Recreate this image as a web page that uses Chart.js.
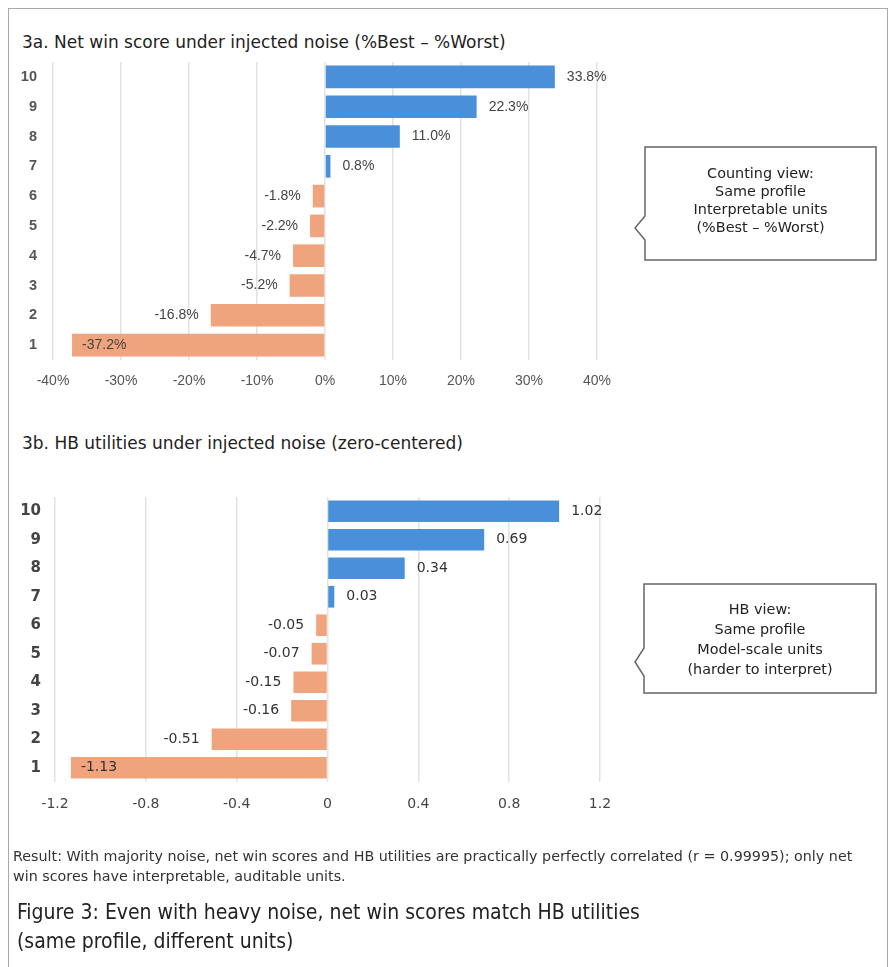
<!DOCTYPE html>
<html><head><meta charset="utf-8">
<script src="https://cdn.jsdelivr.net/npm/chart.js@4.4.1/dist/chart.umd.min.js"></script>
<style>
html,body{margin:0;padding:0;background:#fff;}
body{width:894px;height:967px;position:relative;overflow:hidden;font-family:"DejaVu Sans",sans-serif;}
#frame{position:absolute;left:8px;top:8px;width:880px;height:1100px;border:1.5px solid #a8a8a8;box-sizing:border-box}
.title{position:absolute;left:22px;font-size:17px;color:#222;white-space:nowrap;line-height:20px}
canvas{position:absolute;left:0}
#shapes{position:absolute;left:0;top:0}
.ctext{position:absolute;text-align:center;font-size:14.4px;color:#222;white-space:nowrap}
.result{position:absolute;left:13px;top:846px;font-size:14.3px;line-height:20px;color:#333;white-space:nowrap}
.caption{position:absolute;left:17px;top:898px;font-family:"DejaVu Sans Condensed","DejaVu Sans",sans-serif;font-size:21px;line-height:29px;color:#222;white-space:nowrap}
</style></head>
<body>
<div id="frame"></div>
<div class="title" style="top:32px">3a. Net win score under injected noise (%Best – %Worst)</div>
<canvas id="c1" width="640" height="350" style="top:50px"></canvas>
<div class="title" style="top:433px">3b. HB utilities under injected noise (zero-centered)</div>
<canvas id="c2" width="640" height="345" style="top:480px"></canvas>
<svg id="shapes" width="894" height="967">
  <path d="M645,147 H876 V260 H645 V240 L635,228 L645,216 Z" fill="#fff" stroke="#666" stroke-width="1.5"/>
  <path d="M644,584 H876 V693 H644 V676 L635,662 L644,648 Z" fill="#fff" stroke="#666" stroke-width="1.5"/>
</svg>
<div class="ctext" style="left:645px;width:231px;top:164px;line-height:18px">Counting view:<br>Same profile<br>Interpretable units<br>(%Best – %Worst)</div>
<div class="ctext" style="left:644px;width:232px;top:599px;line-height:20px">HB view:<br>Same profile<br>Model-scale units<br>(harder to interpret)</div>
<div class="result">Result: With majority noise, net win scores and HB utilities are practically perfectly correlated (r = 0.99995); only net<br>win scores have interpretable, auditable units.</div>
<div class="caption">Figure 3: Even with heavy noise, net win scores match HB utilities<br>(same profile, different units)</div>
<script>
// ---- data ----
const levels = ['10','9','8','7','6','5','4','3','2','1'];
const netWinScores = [33.8, 22.3, 11.0, 0.8, -1.8, -2.2, -4.7, -5.2, -16.8, -37.2];
const hbUtilities = [1.02, 0.69, 0.34, 0.03, -0.05, -0.07, -0.15, -0.16, -0.51, -1.13];
const netWinTicks = ['-40%','-30%','-20%','-10%','0%','10%','20%','30%','40%'];
const hbTicks = ['-1.2','-0.8','-0.4','0','0.4','0.8','1.2'];

const BLUE = '#4a8fd9', ORANGE = '#f0a47d';

function labelPlugin(cfg) {
  return {
    id: 'valueLabels',
    afterDatasetsDraw(chart) {
      const ctx = chart.ctx, area = chart.chartArea;
      const meta = chart.getDatasetMeta(0);
      const data = chart.data.datasets[0].data;
      ctx.save();
      ctx.font = cfg.font;
      ctx.fillStyle = cfg.color;
      ctx.textBaseline = 'middle';
      meta.data.forEach((bar, i) => {
        const v = data[i];
        const txt = cfg.format(v);
        const w = ctx.measureText(txt).width;
        const p = bar.getProps(['x', 'y'], true);
        if (v >= 0) {
          ctx.textAlign = 'left';
          ctx.fillText(txt, p.x + cfg.offset, p.y);
        } else if (p.x - cfg.offset - w < area.left) {
          ctx.textAlign = 'left';
          ctx.fillText(txt, p.x + cfg.inset, p.y);
        } else {
          ctx.textAlign = 'right';
          ctx.fillText(txt, p.x - cfg.offset, p.y);
        }
      });
      ctx.restore();
    }
  };
}

function makeChart(id, values, ticks, min, max, step, geo, fonts, fmt) {
  return new Chart(document.getElementById(id), {
    type: 'bar',
    data: {
      labels: levels,
      datasets: [{
        data: values,
        backgroundColor: values.map(v => v >= 0 ? BLUE : ORANGE),
        borderWidth: 0,
        categoryPercentage: 0.8,
        barPercentage: 0.95
      }]
    },
    options: {
      indexAxis: 'y',
      responsive: false,
      animation: false,
      events: [],
      layout: { padding: { top: geo.top, right: geo.right, left: 0, bottom: 0 } },
      plugins: { legend: { display: false }, tooltip: { enabled: false }, title: { display: false } },
      scales: {
        x: {
          min: min, max: max,
          grid: { color: '#e2e2e2', lineWidth: 1.5, drawTicks: false },
          border: { display: false },
          ticks: {
            stepSize: step,
            padding: geo.xpad,
            color: fonts.tickColor,
            font: fonts.tick,
            maxRotation: 0,
            callback: (v, i) => ticks[i]
          },
          afterFit: s => { s.height = geo.xh; s.paddingLeft = 0; s.paddingRight = 0; }
        },
        y: {
          grid: { display: false, drawTicks: false },
          border: { display: false },
          ticks: { padding: geo.ypad, color: fonts.yColor, font: fonts.y },
          afterFit: s => { s.width = geo.yw; s.paddingTop = 0; s.paddingBottom = 0; }
        }
      }
    },
    plugins: [labelPlugin(fmt)]
  });
}

makeChart('c1', netWinScores, netWinTicks, -40, 40, 10,
  { top: 12, right: 43, xh: 40, yw: 53, xpad: 13, ypad: 16 },
  { tick: { family: 'Liberation Sans', size: 14 }, tickColor: '#555',
    y: { family: 'Liberation Sans', size: 14.5, weight: 'bold' }, yColor: '#555' },
  { font: '14px "Liberation Sans"', color: '#444', offset: 12, inset: 10, format: v => v.toFixed(1) + '%' });

makeChart('c2', hbUtilities, hbTicks, -1.2, 1.2, 0.4,
  { top: 17, right: 40, xh: 43, yw: 55, xpad: 14, ypad: 14 },
  { tick: { family: 'DejaVu Sans', size: 14 }, tickColor: '#444',
    y: { family: 'DejaVu Sans', size: 15, weight: 'bold' }, yColor: '#444' },
  { font: '14px "DejaVu Sans"', color: '#333', offset: 12, inset: 10, format: v => v.toFixed(2) });
</script>
</body></html>
